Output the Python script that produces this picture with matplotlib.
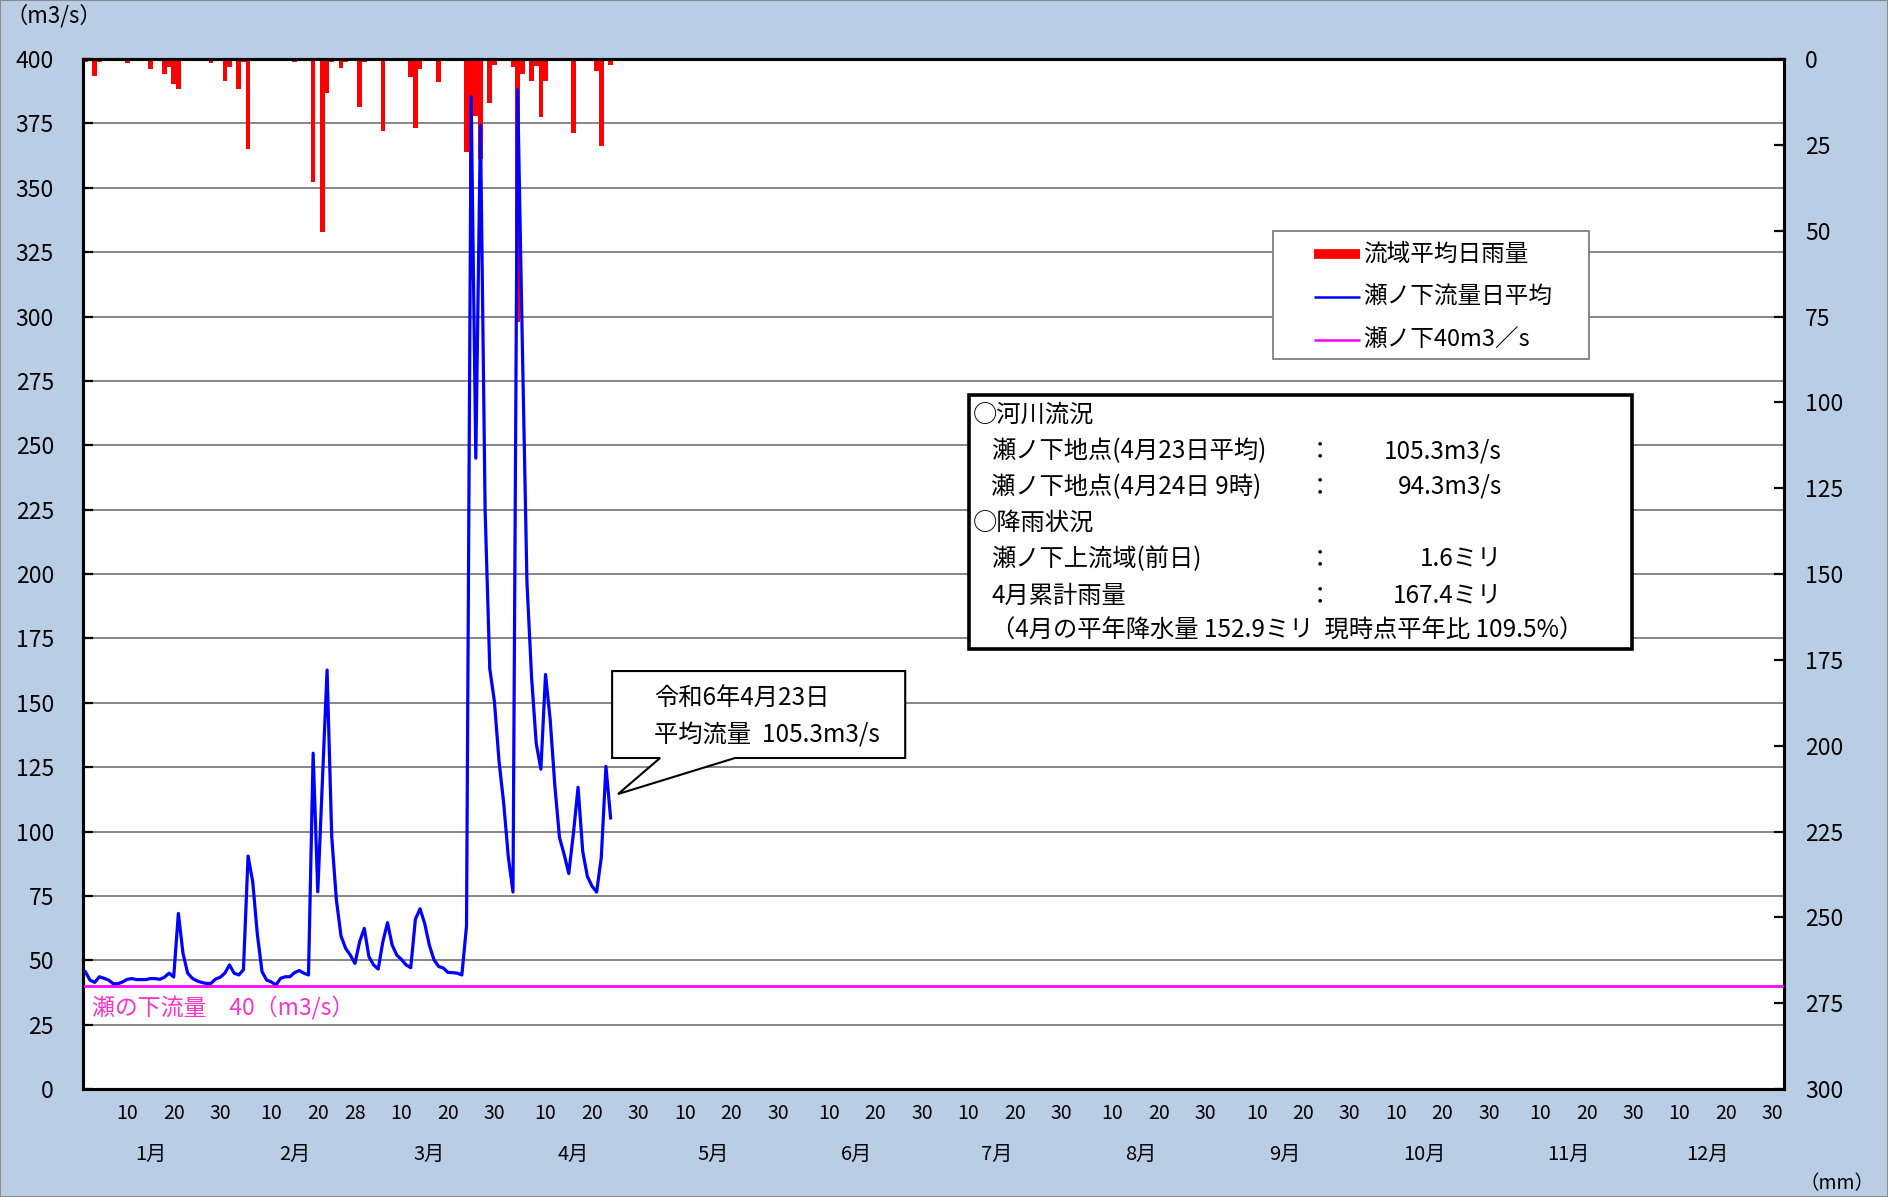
import matplotlib
matplotlib.use("Agg")
import matplotlib.pyplot as plt
from matplotlib.lines import Line2D
from matplotlib.patches import Rectangle, Polygon
import matplotlib.transforms as mtrans

plt.rcParams['font.family'] = ['Noto Sans CJK JP', 'DejaVu Sans']

# 2024 (leap year) calendar axis
MONTH_DAYS = [31, 29, 31, 30, 31, 30, 31, 31, 30, 31, 30, 31]
MONTH_LABELS = [f"{m}月" for m in range(1, 13)]
DAY_TICKS = [[10, 20, 28] if m == 2 else [10, 20, 30] for m in range(1, 13)]
# the day labels on the source chart are laid out on a 365-day calendar
LABEL_MONTH_DAYS = [31, 28, 31, 30, 31, 30, 31, 31, 30, 31, 30, 31]
MONTH_LABEL_DAY = 15

# 瀬ノ下流量日平均 (m3/s), 1/1 .. 4/23
FLOW = [
    45.5, 42.3, 41.4, 43.6, 43.0, 42.3, 40.9, 40.9, 41.6, 42.6,
    42.9, 42.5, 42.5, 42.5, 42.9, 42.9, 42.6, 43.4, 45.0, 43.5,
    68.2, 52.7, 45.0, 43.0, 42.0, 41.4, 41.0, 41.0, 42.7, 43.4,
    45.0, 48.2, 45.0, 44.3, 46.3, 90.5, 80.5, 60.0, 45.6, 42.3,
    41.6, 40.4, 43.0, 43.6, 43.6, 45.2, 46.0, 45.0, 44.3, 130.4,
    76.6, 120.0, 162.7, 98.0, 73.4, 59.4, 54.6, 52.0, 48.8, 57.2,
    62.4, 51.4, 48.2, 46.6, 57.2, 64.6, 55.9, 52.0, 50.3, 48.2,
    47.1, 65.9, 70.0, 64.3, 55.9, 50.2, 47.6, 47.0, 45.3, 45.2,
    45.0, 44.3, 63.3, 385.3, 245.0, 374.2, 225.0, 163.3, 150.5, 127.2,
    111.0, 90.0, 76.5, 388.1, 290.0, 197.0, 159.8, 134.2, 124.2, 161.0,
    143.5, 117.9, 97.7, 91.2, 83.7, 99.3, 117.2, 92.3, 82.6, 78.8,
    76.5, 90.0, 125.3, 105.3,
]

# 流域平均日雨量 (mm), 1/1 .. 4/23
RAIN = [
    1.0, 0, 4.9, 1.0, 0, 0, 0, 0, 0, 1.2,
    0, 0, 0, 0, 3.0, 0, 0, 4.4, 2.4, 7.2,
    8.7, 0, 0.5, 0.5, 0.2, 0.2, 0.2, 1.1, 0, 0,
    6.3, 2.4, 0, 8.6, 1.0, 26.1, 0, 0.5, 0, 0,
    0, 0, 0, 0, 0, 1.0, 0, 0, 0, 35.9,
    0, 50.3, 10.0, 0.8, 0, 2.5, 1.0, 0, 0, 13.9,
    0.8, 0, 0, 0.6, 21.1, 0.6, 0, 0, 0, 0,
    5.2, 20.2, 3.0, 0, 0, 0, 6.8, 0, 0, 0,
    0, 0, 27.0, 64.5, 16.7, 29.2, 0, 12.9, 1.8, 0,
    0.5, 0, 2.2, 76.5, 4.5, 0, 6.3, 2.0, 17.0, 6.5,
    0, 0, 0, 0, 0, 21.5, 0, 0, 0, 0,
    3.4, 25.3, 0.5, 1.6,
]

THRESHOLD = 40

FLOW_TICKS = list(range(0, 401, 25))
RAIN_TICKS = list(range(0, 301, 25))

LEGEND_LABELS = ["流域平均日雨量", "瀬ノ下流量日平均", "瀬ノ下40m3／s"]

INFO_ROWS = [
    ("○河川流況", "", ""),
    ("瀬ノ下地点(4月23日平均)", "：", "105.3m3/s"),
    ("瀬ノ下地点(4月24日 9時)", "：", "94.3m3/s"),
    ("○降雨状況", "", ""),
    ("瀬ノ下上流域(前日)", "：", "1.6ミリ"),
    ("4月累計雨量", "：", "167.4ミリ"),
    ("（4月の平年降水量 152.9ミリ  現時点平年比 109.5%）", "", ""),
]

BG = "#b9cde5"
n_days = sum(MONTH_DAYS)
all_days = list(range(1, n_days + 1))
flow_days = all_days[:len(FLOW)]
rain_days = all_days[:len(RAIN)]

fig = plt.figure(figsize=(18.88, 11.97), dpi=100, facecolor=BG)
ax2 = fig.add_axes([0.044, 0.0902, 0.901, 0.8605])
ax = ax2.twinx()
# flow axes on top, rain axes (behind) carries the white background
ax.set_zorder(ax2.get_zorder() + 1)
ax.patch.set_visible(False)
ax2.set_facecolor("white")

# gridlines at flow ticks, drawn behind the rain bars
for q in FLOW_TICKS[1:-1]:
    ax2.axhline((400 - q) * 300 / 400, color="#868686", lw=1.4, zorder=0)

ax2.bar(rain_days, RAIN, width=1.0, color="#ff0000", align="center", zorder=2)
ax2.set_ylim(300, 0)
ax2.set_xlim(0.5, n_days + 0.5)

ax.plot(flow_days, FLOW, color="#0000ff", lw=2.3, zorder=3)
ax.plot(all_days, [THRESHOLD] * n_days, color="#ff00ff", lw=2.0, zorder=3)
ax.set_ylim(0, 400)
ax.set_xlim(0.5, n_days + 0.5)

# flow on the left, rain on the right
ax.yaxis.tick_left()
ax2.yaxis.tick_right()
ax.set_yticks(FLOW_TICKS)
ax.set_yticklabels([str(v) for v in FLOW_TICKS])
ax2.set_yticks(RAIN_TICKS)
ax2.set_yticklabels([str(v) for v in RAIN_TICKS])
ax.tick_params(axis="y", direction="in", length=7, width=1.6, pad=21, labelsize=16.5)
ax2.tick_params(axis="y", direction="in", length=7, width=1.6, pad=15, labelsize=16.5)

for a in (ax, ax2):
    for s in a.spines.values():
        s.set_color("black")
        s.set_linewidth(2.2)

# x axis: day labels and month labels
starts = [0]
for d in MONTH_DAYS[:-1]:
    starts.append(starts[-1] + d)
label_starts = [0]
for d in LABEL_MONTH_DAYS[:-1]:
    label_starts.append(label_starts[-1] + d)
xt, xl = [], []
for st, ticks in zip(label_starts, DAY_TICKS):
    for d in ticks:
        xt.append(st + d)
        xl.append(str(d))
ax2.set_xticks(xt)
ax2.set_xticklabels(xl)
ax2.tick_params(axis="x", length=0, pad=10, labelsize=14)

trans = mtrans.blended_transform_factory(ax.transData, ax.transAxes)
for st, lab in zip(starts, MONTH_LABELS):
    ax.text(st + MONTH_LABEL_DAY, -0.063, lab, transform=trans, ha="center",
            va="center", fontsize=14.5)

ax.text(0.0055, 0.0786, "瀬の下流量　40（m3/s）", transform=ax.transAxes,
        color="#ff33cc", fontsize=16.5, va="center", ha="left")

fig.text(0.003, 0.987, "（m3/s）", fontsize=16, va="center", ha="left")
fig.text(0.953, 0.011, "（mm）", fontsize=14, va="center", ha="left")

# legend box
ax.add_patch(Rectangle((0.6996, 0.7087), 0.1858, 0.1243, transform=ax.transAxes,
                       facecolor="white", edgecolor="#7f7f7f", lw=1.3, zorder=8))
leg_styles = [("#ff0000", 7), ("#0000ff", 1.8), ("#ff00ff", 1.8)]
leg_y = [0.8107, 0.7689, 0.7272]
for (c, w), lab, y in zip(leg_styles, LEGEND_LABELS, leg_y):
    ax.add_line(Line2D([0.7237, 0.7507], [y, y], transform=ax.transAxes, color=c,
                       lw=w, solid_capstyle="butt", zorder=9))
    ax.text(0.7525, y, lab, transform=ax.transAxes, fontsize=17, va="center",
            ha="left", zorder=9)

# info box
ax.add_patch(Rectangle((0.5209, 0.4272), 0.3897, 0.2466, transform=ax.transAxes,
                       facecolor="white", edgecolor="black", lw=2.6, zorder=8))
row_y = [0.6544, 0.6194, 0.5845, 0.5495, 0.5146, 0.4786, 0.4447]
for (lab, col, val), y in zip(INFO_ROWS, row_y):
    x0 = 0.5232 if lab.startswith("○") else 0.5338
    ax.text(x0, y, lab, transform=ax.transAxes, fontsize=17.5, va="center",
            ha="left", zorder=9)
    if col:
        ax.text(0.7272, y, col, transform=ax.transAxes, fontsize=17.5,
                va="center", ha="center", zorder=9)
        ax.text(0.8342, y, val, transform=ax.transAxes, fontsize=17.5,
                va="center", ha="right", zorder=9)

# callout for the latest value
callout = [(0.311, 0.4058), (0.4833, 0.4058), (0.4833, 0.3214), (0.3833, 0.3214),
           (0.3145, 0.2864), (0.3392, 0.3214), (0.311, 0.3214)]
ax.add_patch(Polygon(callout, closed=True, transform=ax.transAxes, facecolor="white",
                     edgecolor="black", lw=1.5, zorder=8))
ax.text(0.3355, 0.3786, "令和6年4月23日", transform=ax.transAxes, fontsize=17.5,
        va="center", ha="left", zorder=9)
ax.text(0.3355, 0.3437, "平均流量  105.3m3/s", transform=ax.transAxes, fontsize=17.5,
        va="center", ha="left", zorder=9)

fig.add_artist(Rectangle((0, 0), 1, 1, transform=fig.transFigure, fill=False,
                         edgecolor="#8c8c8c", lw=1.5))

fig.savefig("out.png", dpi=100, facecolor=BG)
